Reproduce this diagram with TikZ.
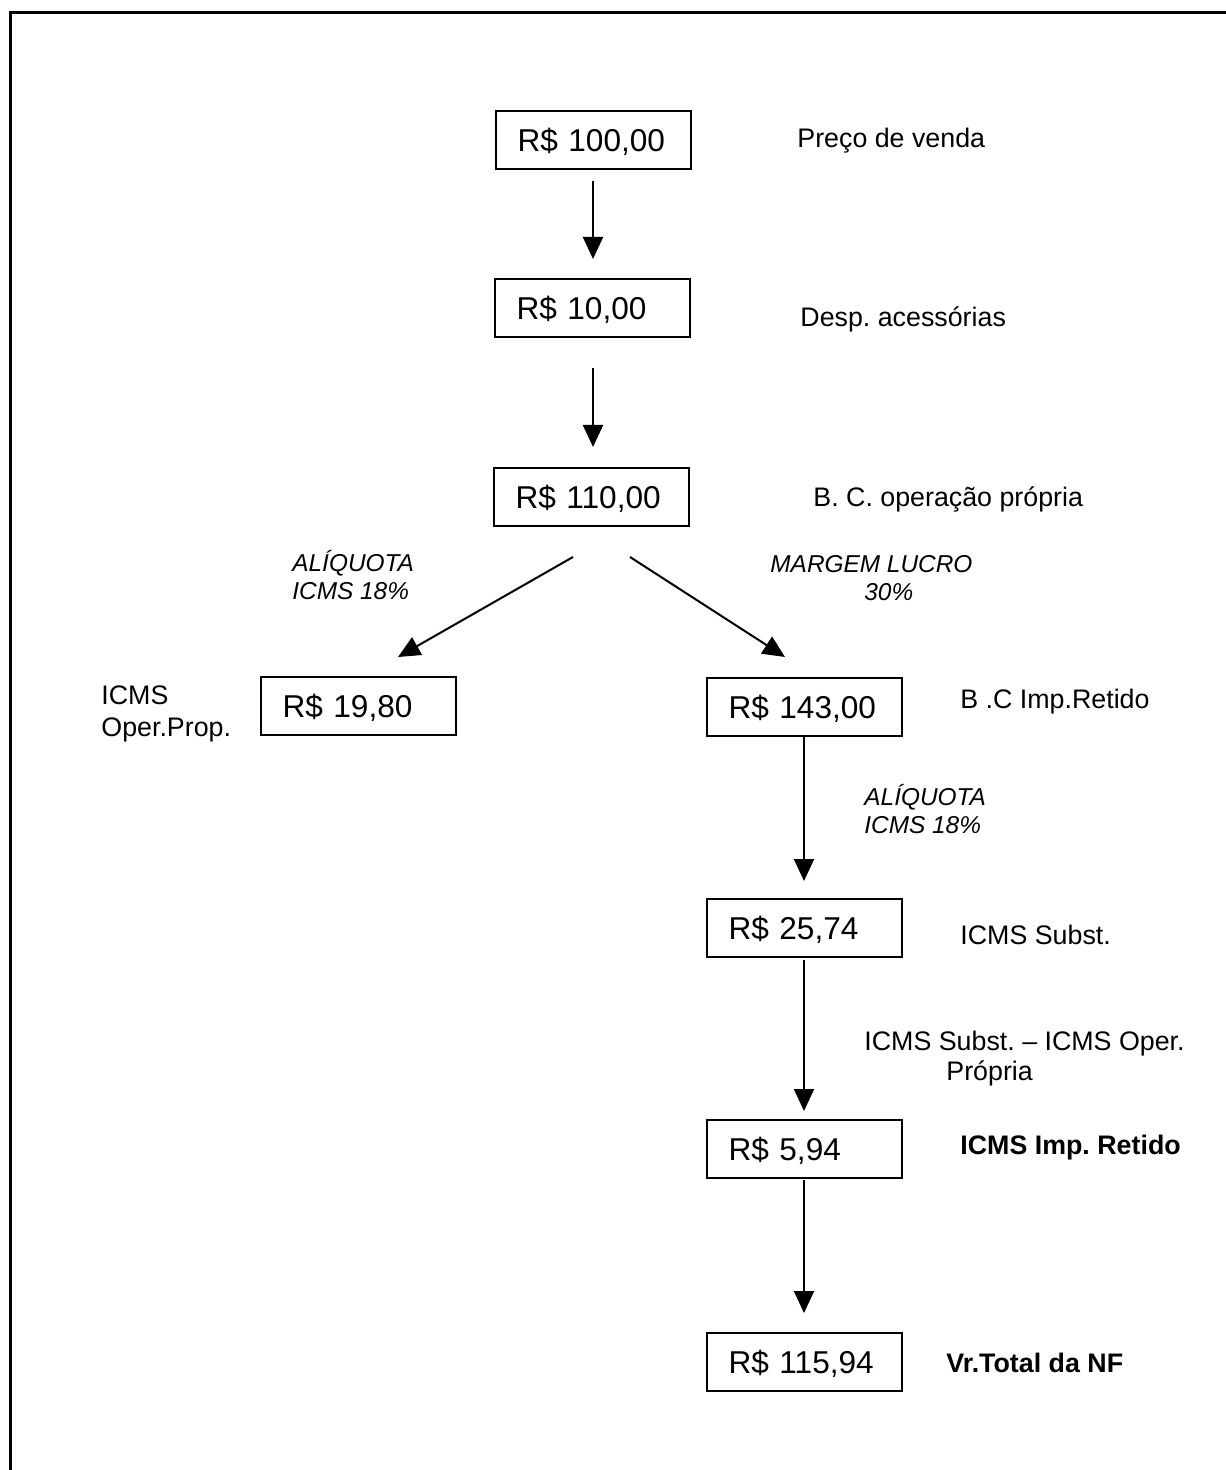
\documentclass[tikz,border=0pt]{standalone}
\usepackage{fontspec}
\setmainfont{Liberation Sans}
\frenchspacing
\usetikzlibrary{arrows.meta}
\tikzset{
  valbox/.style={draw, line width=1pt, text width=75.5pt, align=left, inner xsep=11pt,
    inner ysep=8.85pt, text height=11.3pt, text depth=0pt, font=\fontsize{15.8}{19}\selectfont},
  lbl/.style={anchor=base west, inner sep=0pt, font=\fontsize{13.4}{16}\selectfont},
  blbl/.style={lbl, font=\fontsize{13.4}{16}\selectfont\bfseries},
  ilbl/.style={anchor=base west, inner sep=0pt, align=left, font=\fontsize{12.2}{14}\selectfont\itshape},
  flow/.style={line width=1pt, -{Triangle[width=10pt,length=11pt]}}
}
\begin{document}
\begin{tikzpicture}[x=0.5pt,y=-0.5pt]
\useasboundingbox (0,0) rectangle (1225,1470);
\draw[line width=1.5pt] (10,1475) -- (10,13) -- (1230,13);
% boxes
\node[valbox] (b1) at (593,140) {R\$ 100,00};
\node[valbox] (b2) at (592,308) {R\$ 10,00};
\node[valbox] (b3) at (591,497) {R\$ 110,00};
\node[valbox] (b4) at (358,706) {R\$ 19,80};
\node[valbox] (b5) at (804,707) {R\$ 143,00};
\node[valbox] (b6) at (804,928) {R\$ 25,74};
\node[valbox] (b7) at (804,1149) {R\$ 5,94};
\node[valbox] (b8) at (804,1362) {R\$ 115,94};
% arrow end points
\coordinate (a1s) at (593,181); \coordinate (a1e) at (593,259);
\coordinate (a2s) at (593,368); \coordinate (a2e) at (593,447);
\coordinate (a3s) at (573,557); \coordinate (a3e) at (398,657);
\coordinate (a4s) at (630,557); \coordinate (a4e) at (785,657);
\coordinate (a5s) at (804,737); \coordinate (a5e) at (804,881);
\coordinate (a6s) at (804,960); \coordinate (a6e) at (804,1111);
\coordinate (a7s) at (804,1180); \coordinate (a7e) at (804,1313);
\draw[flow] (a1s) -- (a1e);
\draw[flow] (a2s) -- (a2e);
\draw[flow] (a3s) -- (a3e);
\draw[flow] (a4s) -- (a4e);
\draw[flow] (a5s) -- (a5e);
\draw[flow] (a6s) -- (a6e);
\draw[flow] (a7s) -- (a7e);
% labels
\node[lbl] (l1) at (797,148) {Preço de venda};
\node[lbl] (l2) at (800,327) {Desp. acessórias};
\node[lbl] (l3) at (813,506) {B. C. operação própria};
\node[ilbl] (l4) at (292,599) {ALÍQUOTA\\ICMS 18\%};
\node[ilbl] (l5) at (770,600) {MARGEM LUCRO\\\hspace*{47pt}30\%};
\node[lbl, align=left] (l6) at (101,736) {ICMS\\Oper.Prop.};
\node[lbl] (l7) at (960,708) {B .C Imp.Retido};
\node[ilbl] (l8) at (864,833) {ALÍQUOTA\\ICMS 18\%};
\node[lbl] (l9) at (960,944) {ICMS Subst.};
\node[lbl, align=left, font=\fontsize{13.4}{15}\selectfont] (l10) at (864,1080) {ICMS Subst. – ICMS Oper.\\\hspace*{41pt}Própria};
\node[blbl] (l11) at (960,1154) {ICMS Imp. Retido};
\node[blbl] (l12) at (946,1372) {Vr.Total da NF};
\end{tikzpicture}
\end{document}
